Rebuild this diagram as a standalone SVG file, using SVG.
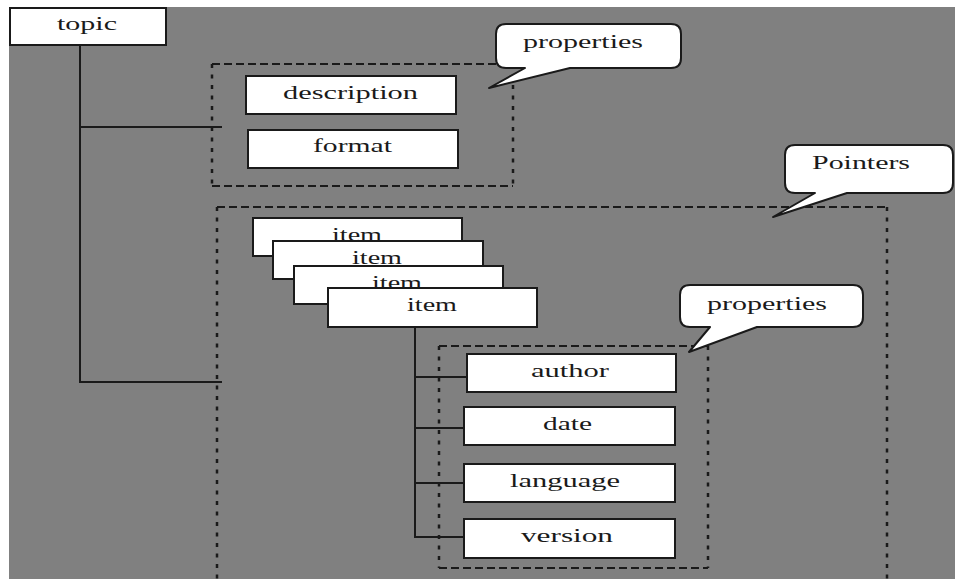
<svg xmlns="http://www.w3.org/2000/svg" width="955" height="579" viewBox="0 0 955 579">
  <style>
    .box { fill: #ffffff; stroke: #1a1a1a; stroke-width: 2; }
    .bubble { fill: #ffffff; stroke: #1a1a1a; stroke-width: 2; stroke-linejoin: round; }
    .lbl { font-family: "Liberation Serif", "Times New Roman", serif; font-size: 19px; fill: #1a1a1a; }
    .wire { stroke: #1a1a1a; stroke-width: 2; fill: none; }
    .dash-h { stroke: #1a1a1a; stroke-width: 2; stroke-dasharray: 8 4; fill: none; }
    .dash-v { stroke: #1a1a1a; stroke-width: 2.5; stroke-dasharray: 4 6.5; fill: none; }
  </style>

  <!-- canvas -->
  <rect x="0" y="0" width="955" height="579" fill="#ffffff"/>
  <rect x="9" y="7" width="946" height="572" fill="#808080"/>

  <!-- grouping frames -->
  <g id="frames">
    <!-- topic properties -->
    <path class="dash-h" d="M212,64 H513 M212,186 H513"/>
    <path class="dash-v" d="M212,64 V186 M513,64 V186"/>
    <!-- pointers -->
    <path class="dash-h" d="M217,207 H887"/>
    <path class="dash-v" d="M217,207 V579 M887,207 V579"/>
    <!-- item properties -->
    <path class="dash-h" d="M439,346 H708 M439,568 H708"/>
    <path class="dash-v" d="M439,346 V568 M708,346 V568"/>
  </g>

  <!-- connectors -->
  <g id="connectors">
    <path class="wire" d="M80,45 V382 H222 M80,127 H222"/>
    <path class="wire" d="M415,327 V537 H464 M415,377 H467 M415,428 H464 M415,483 H464"/>
  </g>

  <g id="topic">
    <rect class="box" x="10" y="8" width="156" height="37"/>
    <text class="lbl" x="57" y="30" textLength="60" lengthAdjust="spacingAndGlyphs">topic</text>
  </g>

  <g id="description">
    <rect class="box" x="246" y="76" width="210" height="38"/>
    <text class="lbl" x="283" y="99" textLength="135" lengthAdjust="spacingAndGlyphs">description</text>
  </g>

  <g id="format">
    <rect class="box" x="248" y="130" width="210" height="38"/>
    <text class="lbl" x="313" y="152" textLength="79" lengthAdjust="spacingAndGlyphs">format</text>
  </g>

  <g id="bubble-topic-properties">
    <path class="bubble" d="M506,24 H671 Q681,24 681,34 V58 Q681,68 671,68 H570 L489,88 L525,68 H506 Q496,68 496,58 V34 Q496,24 506,24 Z"/>
    <text class="lbl" x="523" y="48" textLength="120" lengthAdjust="spacingAndGlyphs">properties</text>
  </g>

  <g id="bubble-pointers">
    <path class="bubble" d="M795,145 H943 Q953,145 953,155 V183 Q953,193 943,193 H847 L773,217 L815,193 H795 Q785,193 785,183 V155 Q785,145 795,145 Z"/>
    <text class="lbl" x="812" y="169" textLength="98" lengthAdjust="spacingAndGlyphs">Pointers</text>
  </g>

  <g id="item-1">
    <rect class="box" x="253" y="218" width="209" height="38"/>
    <text class="lbl" x="332" y="241" textLength="50" lengthAdjust="spacingAndGlyphs">item</text>
  </g>
  <g id="item-2">
    <rect class="box" x="273" y="241" width="210" height="38"/>
    <text class="lbl" x="352" y="264" textLength="50" lengthAdjust="spacingAndGlyphs">item</text>
  </g>
  <g id="item-3">
    <rect class="box" x="294" y="266" width="209" height="38"/>
    <text class="lbl" x="372" y="289" textLength="50" lengthAdjust="spacingAndGlyphs">item</text>
  </g>
  <g id="item-4">
    <rect class="box" x="328" y="288" width="209" height="39"/>
    <text class="lbl" x="407" y="311" textLength="50" lengthAdjust="spacingAndGlyphs">item</text>
  </g>

  <g id="bubble-item-properties">
    <path class="bubble" d="M690,285 H853 Q863,285 863,295 V317 Q863,327 853,327 H757 L689,352 L710,327 H690 Q680,327 680,317 V295 Q680,285 690,285 Z"/>
    <text class="lbl" x="707" y="310" textLength="120" lengthAdjust="spacingAndGlyphs">properties</text>
  </g>

  <g id="author">
    <rect class="box" x="467" y="354" width="209" height="38"/>
    <text class="lbl" x="531" y="377" textLength="78" lengthAdjust="spacingAndGlyphs">author</text>
  </g>
  <g id="date">
    <rect class="box" x="464" y="407" width="211" height="38"/>
    <text class="lbl" x="543" y="430" textLength="49" lengthAdjust="spacingAndGlyphs">date</text>
  </g>
  <g id="language">
    <rect class="box" x="464" y="464" width="211" height="38"/>
    <text class="lbl" x="510" y="487" textLength="110" lengthAdjust="spacingAndGlyphs">language</text>
  </g>
  <g id="version">
    <rect class="box" x="464" y="519" width="211" height="39"/>
    <text class="lbl" x="521" y="542" textLength="92" lengthAdjust="spacingAndGlyphs">version</text>
  </g>
</svg>
